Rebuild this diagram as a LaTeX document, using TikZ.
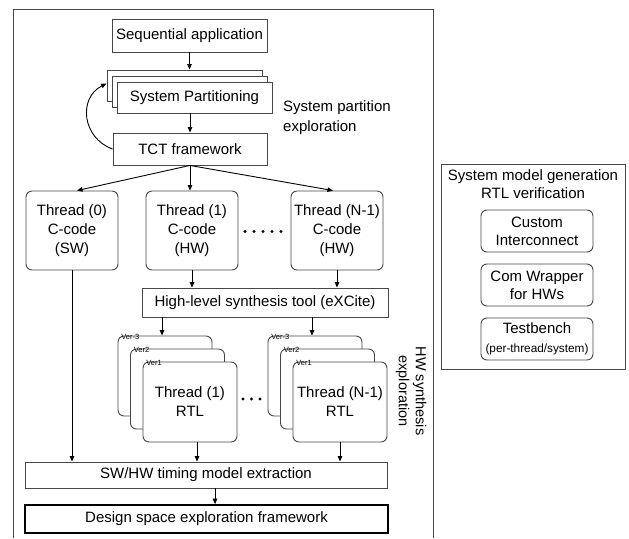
\documentclass[tikz,border=0pt]{standalone}
\usepackage{fontspec}
\setmainfont{Liberation Sans}
\usetikzlibrary{arrows.meta,calc}
\begin{document}
\begin{tikzpicture}[x=1pt,y=-1pt,
  every node/.style={font=\fontsize{15}{19}\selectfont, inner sep=0pt, align=center},
  box/.style={draw=black!72, line width=0.9pt, fill=white},
  rbox/.style={box, rounded corners=6pt},
  small/.style={font=\fontsize{7.5}{8}\selectfont},
  arr/.style={draw=black, line width=0.9pt, -{Triangle[length=5.5pt,width=4.5pt]}},
  dot/.style={fill=black}
]
\useasboundingbox (0,0) rectangle (629,538);
% outer frame (open at bottom)
\draw[draw=black!72, line width=0.9pt] (13,538) -- (13,9) -- (433,9) -- (433,538);

% top part
\node[box, minimum width=155pt, minimum height=33pt] (seq) at (189.5,35.5) {Sequential application};
\node[box, minimum width=155pt, minimum height=31pt] (sp3) at (184.5,85.5) {};
\node[box, minimum width=155pt, minimum height=31pt] (sp2) at (189.5,91.5) {};
\node[box, minimum width=155pt, minimum height=31pt] (sp1) at (194.5,97.5) {System Partitioning};
\node[box, minimum width=154pt, minimum height=32pt] (tct) at (190,149) {TCT framework};
\node[anchor=west, align=left, font=\fontsize{15}{20}\selectfont] (spx) at (283,118) {System partition\\exploration};

\draw[arr] (seq.south) -- (seq.south |- sp3.north);
\draw[arr] (tct.north |- sp1.south) -- (tct.north);
\draw[arr] (tct.west) .. controls (82,138) and (78,98) .. ([yshift=2pt]sp3.west);

% threads
\node[rbox, minimum width=92pt, minimum height=79pt] (th0) at (72,230.5) {Thread (0)\\C-code\\(SW)};
\node[rbox, minimum width=92pt, minimum height=79pt] (th1) at (192,230.5) {Thread (1)\\C-code\\(HW)};
\node[rbox, minimum width=92pt, minimum height=79pt] (thn) at (337,230.5) {Thread (N-1)\\C-code\\(HW)};
\foreach \x in {245,254,263,272,281} \fill[dot] (\x,231.5) circle (1.7pt);

\draw[arr] (tct.south) -- ([xshift=5pt]th0.north);
\draw[arr] (tct.south) -- (tct.south |- th1.north);
\draw[arr] (tct.south) -- ([xshift=-4pt]thn.north);

% HLS
\node[box, minimum width=246pt, minimum height=29pt] (hls) at (265,302.5) {High-level synthesis tool (eXCite)};
\draw[arr] (th1.south) -- (th1.south |- hls.north);
\draw[arr] (thn.south) -- (thn.south |- hls.north);

% RTL stacks
\foreach \n/\dx in {a/0,b/150}{
  \node[rbox, minimum width=94pt, minimum height=80pt] (\n3) at (165+\dx,376) {};
  \node[small, anchor=north west] (\n3l) at ($(\n3.north west)+(3.5pt,1.5pt)$) {Ver-3};
  \node[rbox, minimum width=94pt, minimum height=80pt] (\n2) at (177.5+\dx,389) {};
  \node[small, anchor=north west] (\n2l) at ($(\n2.north west)+(3.5pt,1.5pt)$) {Ver2};
}
\node[rbox, minimum width=94pt, minimum height=80pt] (a1) at (190,402) {Thread (1)\\RTL};
\node[small, anchor=north west] (a1l) at ($(a1.north west)+(3.5pt,1.5pt)$) {Ver1};
\node[rbox, minimum width=94pt, minimum height=80pt] (b1) at (340,402) {Thread (N-1)\\RTL};
\node[small, anchor=north west] (b1l) at ($(b1.north west)+(3.5pt,1.5pt)$) {Ver1};
\foreach \x in {243,251.5,260} \fill[dot] (\x,399) circle (1.7pt);

\draw[arr] ([xshift=-3pt]hls.south -| a3.north) -- ([xshift=-3pt]a3.north);
\draw[arr] ([xshift=-3pt]hls.south -| b3.north) -- ([xshift=-3pt]b3.north);

\node[rotate=-90, font=\fontsize{14.5}{17}\selectfont] (hwx) at (411,391) {HW synthesis\\exploration};

% bottom
\node[box, minimum width=362pt, minimum height=26pt] (swhw) at (206,475) {SW/HW timing model extraction};
\node[draw=black, line width=1.6pt, fill=white, minimum width=363pt, minimum height=28pt] (dse) at (206.5,519) {Design space exploration framework};

\draw[arr] (th0.south) -- (th0.south |- swhw.north);
\draw[arr] ([xshift=7pt]a1.south) -- ([xshift=7pt]a1.south |- swhw.north);
\draw[arr] (b1.south) -- (b1.south |- swhw.north);
\draw[arr] ([xshift=9pt]swhw.south) -- ([xshift=9pt]swhw.south |- dse.north);

% right box
\node[box, minimum width=184pt, minimum height=205pt] (rb) at (533,266.5) {};
\node[font=\fontsize{15}{18}\selectfont] (rbt) at (533,184) {System model generation\\RTL verification};
\node[rbox, minimum width=112pt, minimum height=42pt, font=\fontsize{15}{18}\selectfont] (ci) at (537,231) {Custom\\Interconnect};
\node[rbox, minimum width=112pt, minimum height=42pt, font=\fontsize{15}{18}\selectfont] (cw) at (537,285) {Com Wrapper\\for HWs};
\node[rbox, minimum width=112pt, minimum height=42pt] (tb) at (537,339) {\fontsize{15}{18}\selectfont Testbench\\\fontsize{11.8}{14}\selectfont(per-thread/system)};
\end{tikzpicture}
\end{document}
